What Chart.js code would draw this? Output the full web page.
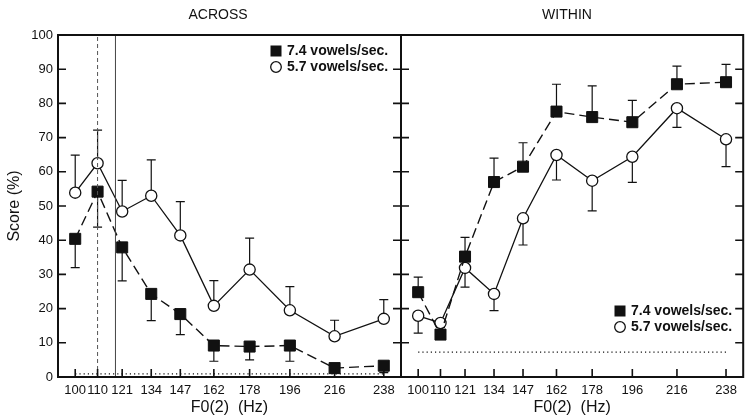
<!DOCTYPE html>
<html><head><meta charset="utf-8">
<script src="https://cdn.jsdelivr.net/npm/chart.js@4/dist/chart.umd.min.js"></script>
<style>
html,body{margin:0;padding:0;background:#fff;}
#wrap{position:relative;width:752px;height:420px;}
canvas{position:absolute;left:0;top:0;}
</style></head><body>
<div id="wrap"><canvas id="c1" width="752" height="420"></canvas><canvas id="c2" width="752" height="420"></canvas></div>
<script>
// ---- data ----
const f0Hz = [100,110,121,134,147,162,178,196,216,238];
const yTickValues = [0,10,20,30,40,50,60,70,80,90,100];
const seriesLabels = ['7.4 vowels/sec.','5.7 vowels/sec.'];
const panelTitles = ['ACROSS','WITHIN'];
const xTitle = 'F0(2)  (Hz)';
const yTitle = 'Score (%)';

const across74       = [40.4,54.2,37.9,24.3,18.4,9.2,8.9,9.2,2.6,3.3];
const across74ErrLow = [32.0,43.8,28.1,16.5,12.4,4.6,5.0,4.6,1.2,1.3];
const across57        = [53.9,62.5,48.4,53.0,41.4,20.8,31.4,19.5,11.9,17.0];
const across57ErrHigh = [64.9,72.2,57.5,63.5,51.3,28.2,40.6,26.4,16.6,22.6];

const within74        = [24.8,12.4,35.2,57.0,61.5,77.6,76.0,74.5,85.6,86.2];
const within74ErrHigh = [29.2,14.5,40.8,64.0,68.5,85.6,85.1,80.9,90.9,91.4];
const within57       = [17.9,15.8,31.9,24.3,46.4,64.9,57.4,64.4,78.6,69.5];
const within57ErrLow = [12.8,13.5,26.3,19.4,38.6,57.6,48.6,56.9,73.0,61.5];

const acrossChance = 0.9;
const withinChance = 7.3;
const acrossRefDashedHz = 110;
const acrossRefSolidHz = 118;

// ---- helpers ----
const INK = '#111';
const FONT = "'Liberation Sans', Arial, sans-serif";
const pts = (xs, ys) => xs.map((x, i) => ({x: x, y: ys[i]}));

function seriesDatasets(v74, e74, v57, e57) {
  return [
    {label: seriesLabels[0], data: pts(f0Hz, v74), errBound: e74,
     borderColor: INK, borderWidth: 1.4, borderDash: [10,5],
     pointStyle: 'rect', pointRadius: 7.8, pointBackgroundColor: INK, pointBorderColor: INK, pointBorderWidth: 1},
    {label: seriesLabels[1], data: pts(f0Hz, v57), errBound: e57,
     borderColor: INK, borderWidth: 1.3,
     pointStyle: 'circle', pointRadius: 5.6, pointBackgroundColor: '#fff', pointBorderColor: INK, pointBorderWidth: 1.3}
  ];
}
function chanceDataset(level) {
  return {data: [{x: f0Hz[0], y: level}, {x: f0Hz[f0Hz.length-1], y: level}],
          borderColor: INK, borderWidth: 1.2, borderDash: [1.2,3], pointRadius: 0};
}
function vlineDataset(hz, dash, color) {
  return {data: [{x: hz, y: 0}, {x: hz, y: 100}], borderColor: color, borderWidth: 1,
          borderDash: dash, pointRadius: 0};
}

const errorBarPlugin = {
  id: 'errbars',
  beforeDatasetsDraw(chart) {
    const {ctx, scales: {x, y}} = chart;
    ctx.save();
    ctx.strokeStyle = INK; ctx.lineWidth = 1.2; ctx.setLineDash([]);
    chart.data.datasets.forEach(ds => {
      if (!ds.errBound) return;
      ds.data.forEach((p, i) => {
        const px = x.getPixelForValue(p.x);
        const py = y.getPixelForValue(p.y);
        const pe = y.getPixelForValue(ds.errBound[i]);
        ctx.beginPath();
        ctx.moveTo(px, py); ctx.lineTo(px, pe);
        ctx.moveTo(px - 4.5, pe); ctx.lineTo(px + 4.5, pe);
        ctx.stroke();
      });
    });
    ctx.restore();
  }
};

function framePlugin(title, titleX, legendPos) {
  return {
    id: 'frame',
    afterDraw(chart) {
      const {ctx, chartArea: a, scales: {x, y}} = chart;
      ctx.save();
      ctx.strokeStyle = INK; ctx.lineWidth = 2; ctx.setLineDash([]);
      ctx.strokeRect(a.left, a.top, a.right - a.left, a.bottom - a.top);
      ctx.lineWidth = 1.6;
      ctx.beginPath();
      yTickValues.forEach(v => {
        const py = y.getPixelForValue(v);
        ctx.moveTo(a.left, py); ctx.lineTo(a.left + 8, py);
        ctx.moveTo(a.right, py); ctx.lineTo(a.right - 8, py);
      });
      f0Hz.forEach(v => {
        const px = x.getPixelForValue(v);
        ctx.moveTo(px, a.bottom); ctx.lineTo(px, a.bottom - 8);
      });
      ctx.stroke();
      // panel title
      ctx.fillStyle = INK;
      ctx.font = '14px ' + FONT;
      ctx.textAlign = 'center'; ctx.textBaseline = 'middle';
      ctx.fillText(title, titleX, 15);
      // legend
      const [lx, ly] = legendPos;
      ctx.fillRect(lx - 5.5, ly - 5.5, 11, 11);
      ctx.beginPath(); ctx.lineWidth = 1.3;
      ctx.arc(lx, ly + 16, 5.3, 0, Math.PI * 2);
      ctx.fillStyle = '#fff'; ctx.fill(); ctx.stroke();
      ctx.fillStyle = INK;
      ctx.font = 'bold 14px ' + FONT;
      ctx.textAlign = 'left';
      ctx.fillText(seriesLabels[0], lx + 11, ly);
      ctx.fillText(seriesLabels[1], lx + 11, ly + 16);
      ctx.restore();
    }
  };
}

function xScale() {
  return {
    type: 'linear', min: 92.3, max: 245.7,
    afterBuildTicks: s => { s.ticks = f0Hz.map(v => ({value: v})); },
    afterFit: s => { s.height = 43; },
    grid: {display: false, drawTicks: false},
    border: {display: false},
    ticks: {color: INK, font: {size: 13, family: FONT}, padding: 6, maxRotation: 0, autoSkip: false,
            callback: v => String(v)},
    title: {display: true, text: xTitle, color: INK, font: {size: 16, family: FONT}, padding: {top: 0, bottom: 3}}
  };
}

const common = {
  responsive: false, animation: false, events: [],
  plugins: {legend: {display: false}, tooltip: {enabled: false}}
};

new Chart(document.getElementById('c1'), {
  type: 'line',
  data: {datasets: [
    vlineDataset(acrossRefDashedHz, [4,3], '#555'),
    vlineDataset(acrossRefSolidHz, [], '#444'),
    chanceDataset(acrossChance),
    ...seriesDatasets(across74, across74ErrLow, across57, across57ErrHigh)
  ]},
  options: Object.assign({}, common, {
    layout: {padding: {top: 35, right: 351, bottom: 0, left: 0}},
    scales: {
      x: xScale(),
      y: {min: 0, max: 100,
          afterBuildTicks: s => { s.ticks = yTickValues.map(v => ({value: v})); },
          afterFit: s => { s.width = 58; },
          grid: {display: false, drawTicks: false}, border: {display: false},
          ticks: {color: INK, font: {size: 13, family: FONT}, padding: 5},
          title: {display: true, text: yTitle, color: INK, font: {size: 16, family: FONT}, padding: {top: 5, bottom: 0}}}
    }
  }),
  plugins: [errorBarPlugin, framePlugin(panelTitles[0], 218, [276, 51])]
});

new Chart(document.getElementById('c2'), {
  type: 'line',
  data: {datasets: [
    chanceDataset(withinChance),
    ...seriesDatasets(within74, within74ErrHigh, within57, within57ErrLow)
  ]},
  options: Object.assign({}, common, {
    layout: {padding: {top: 35, right: 8, bottom: 0, left: 401}},
    scales: {
      x: xScale(),
      y: {display: false, min: 0, max: 100}
    }
  }),
  plugins: [errorBarPlugin, framePlugin(panelTitles[1], 567, [620, 311])]
});
</script>
</body></html>
